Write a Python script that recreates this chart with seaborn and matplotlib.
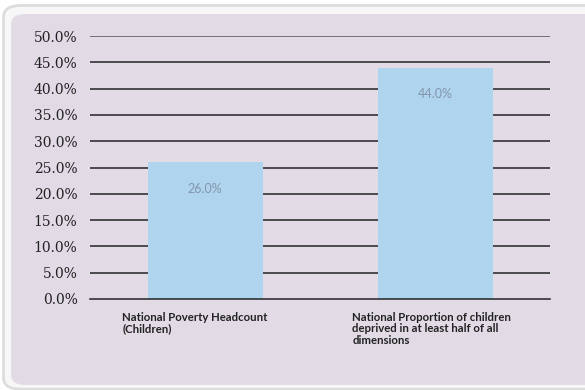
import matplotlib
matplotlib.use("Agg")
import matplotlib.pyplot as plt
from matplotlib.patches import FancyBboxPatch
import seaborn as sns
import pandas as pd

categories = ["National Poverty Headcount\n(Children)",
              "National Proportion of children\ndeprived in at least half of all\ndimensions"]
values = [26.0, 44.0]
yticks = [0, 5, 10, 15, 20, 25, 30, 35, 40, 45, 50]

df = pd.DataFrame({"category": categories, "value": values})

sns.set_theme(style="white")
fig = plt.figure(figsize=(5.85, 3.9), dpi=100)
fig.patch.set_facecolor("white")

# rounded card behind the chart
outer = FancyBboxPatch((0.006, 0.002), 1.05, 0.984, boxstyle="round,pad=0,rounding_size=0.03",
                       transform=fig.transFigure, facecolor="#f7f7f7", edgecolor="#dcdddd",
                       linewidth=2, zorder=-3)
inner = FancyBboxPatch((0.019, 0.013), 1.05, 0.951, boxstyle="round,pad=0,rounding_size=0.025",
                       transform=fig.transFigure, facecolor="#e2dbe6", edgecolor="none", zorder=-2)
fig.patches.extend([outer, inner])

ax = fig.add_axes([90 / 585, 1 - 299 / 390, 460 / 585, 263 / 390])
ax.set_facecolor("none")

sns.barplot(data=df, x="category", y="value", color="#aed4ee", saturation=1,
            width=0.5, linewidth=0, edgecolor="none", ax=ax, zorder=2)

ax.set_xlim(-0.5, 1.5)
ax.set_ylim(0, 50)
ax.set_yticks(yticks)
ax.set_yticklabels([f"{t:.1f}%" for t in yticks], family="DejaVu Serif", fontsize=10,
                   color="#222222")
ax.tick_params(axis="y", length=0, pad=9)
for t in yticks[1:]:
    ax.axhline(t, color="#555555" if t == 50 else "#222222", lw=1.1, zorder=1)
for s in ["top", "right", "left"]:
    ax.spines[s].set_visible(False)
ax.spines["bottom"].set_color("#222222")
ax.spines["bottom"].set_linewidth(1.1)
ax.set_xlabel("")
ax.set_ylabel("")
ax.set_xticks([])

for i, (cat, v) in enumerate(zip(categories, values)):
    ax.text(i, v - 5.0, f"{v:.1f}%", ha="center", va="center", fontsize=9,
            color="#8396ab", family="Lato", zorder=3)
    ax.text(i - 0.36, -2.4, cat, ha="left", va="top", fontsize=8.2,
            color="#222222", family="Lato", fontweight="bold", linespacing=1.05)

fig.savefig("out.png", dpi=100, facecolor=fig.get_facecolor())
